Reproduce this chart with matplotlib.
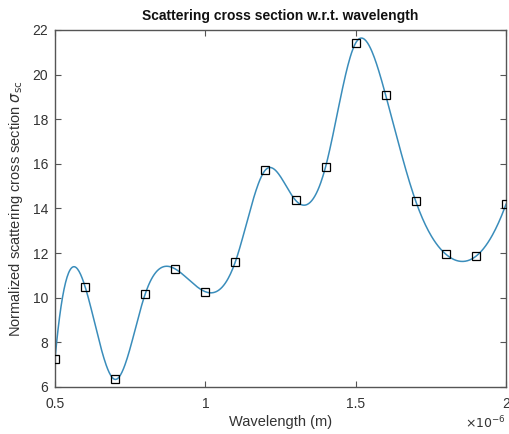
import numpy as np
import matplotlib
matplotlib.use("Agg")
import matplotlib.pyplot as plt
from matplotlib.ticker import FuncFormatter

# Sample wavelengths (m) and normalized scattering cross sections
wavelength = np.array([0.5, 0.6, 0.7, 0.8, 0.9, 1.0, 1.1, 1.2,
                       1.3, 1.4, 1.5, 1.6, 1.7, 1.8, 1.9, 2.0]) * 1e-6
sigma_sc = np.array([7.25, 10.50, 6.34, 10.17, 11.29, 10.27, 11.62, 15.73,
                     14.37, 15.87, 21.42, 19.07, 14.32, 11.95, 11.86, 14.19])

y_ticks = [6, 8, 10, 12, 14, 16, 18, 20, 22]
x_ticks = [0.5e-6, 1.0e-6, 1.5e-6, 2.0e-6]


def not_a_knot_spline(x, y, xq):
    """Cubic spline with not-a-knot end conditions (as MATLAB's spline)."""
    n = len(x)
    h = np.diff(x)
    A = np.zeros((n, n))
    b = np.zeros(n)
    for i in range(1, n - 1):
        A[i, i - 1] = h[i - 1]
        A[i, i] = 2 * (h[i - 1] + h[i])
        A[i, i + 1] = h[i]
        b[i] = 6 * ((y[i + 1] - y[i]) / h[i] - (y[i] - y[i - 1]) / h[i - 1])
    A[0, 0], A[0, 1], A[0, 2] = h[1], -(h[0] + h[1]), h[0]
    A[-1, -3], A[-1, -2], A[-1, -1] = h[-1], -(h[-2] + h[-1]), h[-2]
    M = np.linalg.solve(A, b)
    idx = np.clip(np.searchsorted(x, xq) - 1, 0, n - 2)
    x0, x1 = x[idx], x[idx + 1]
    hh = x1 - x0
    t0, t1 = x1 - xq, xq - x0
    return (M[idx] * t0 ** 3 / (6 * hh) + M[idx + 1] * t1 ** 3 / (6 * hh)
            + (y[idx] / hh - M[idx] * hh / 6) * t0
            + (y[idx + 1] / hh - M[idx + 1] * hh / 6) * t1)


xu = wavelength * 1e6
xq_u = np.linspace(xu[0], xu[-1], 600)
yq = not_a_knot_spline(xu, sigma_sc, xq_u)

plt.rcParams['font.family'] = ['Liberation Sans', 'DejaVu Sans']
plt.rcParams['mathtext.fontset'] = 'dejavusans'

fig = plt.figure(figsize=(5.09, 4.34), dpi=100)
fig.patch.set_facecolor('white')
ax = fig.add_axes([55 / 509, 1 - 387 / 434, 451 / 509, 357 / 434])

ax.plot(xq_u * 1e-6, yq, color='#3a8dbb', lw=1.1, zorder=2)
ax.plot(wavelength, sigma_sc, linestyle='none', marker='s', markersize=5.5,
        markerfacecolor='none', markeredgecolor='black', markeredgewidth=0.9,
        zorder=3)

ax.set_xlim(0.5e-6, 2.0e-6)
ax.set_ylim(6, 22)
ax.set_xticks(x_ticks)
ax.set_yticks(y_ticks)
ax.xaxis.set_major_formatter(FuncFormatter(lambda v, p: f'{v * 1e6:g}'))

axis_gray = '#555555'
for s in ax.spines.values():
    s.set_color(axis_gray)
    s.set_linewidth(1.0)
ax.tick_params(direction='in', top=True, right=True, length=4, width=0.8,
               colors=axis_gray, labelcolor='#333333', labelsize=10)
ax.tick_params(axis='x', pad=7)
ax.tick_params(axis='y', pad=5)

ax.set_title('Scattering cross section w.r.t. wavelength', fontsize=10,
             fontweight='bold', color='#111111', pad=7)
ax.set_xlabel('Wavelength (m)', fontsize=10.5, color='#333333', labelpad=3)
ax.set_ylabel(r'Normalized scattering cross section $\sigma_{\rm sc}$',
              fontsize=10.5, color='#333333', labelpad=5)
ax.text(1.0, -0.078, r'$\times10^{-6}$', transform=ax.transAxes,
        ha='right', va='top', fontsize=9, color='#333333')

fig.savefig('out.png', dpi=100, facecolor='white')
